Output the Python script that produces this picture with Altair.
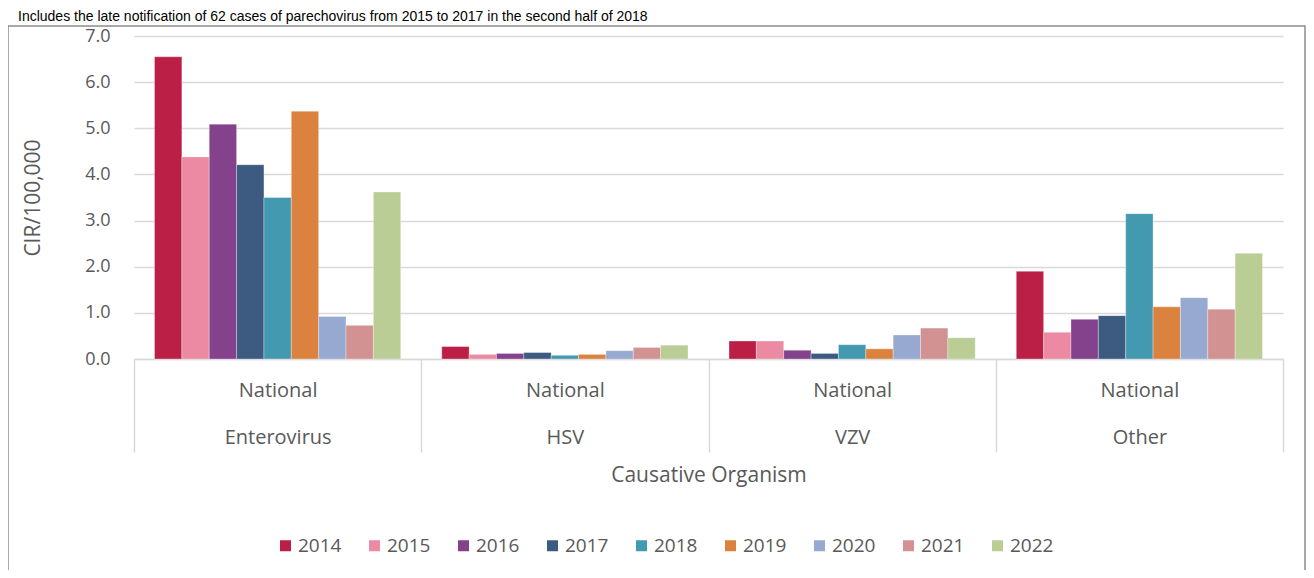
import altair as alt
import pandas as pd

groups = ["Enterovirus", "HSV", "VZV", "Other"]
years = ["2014", "2015", "2016", "2017", "2018", "2019", "2020", "2021", "2022"]
enterovirus = [6.55, 4.38, 5.09, 4.21, 3.50, 5.37, 0.92, 0.73, 3.62]
hsv = [0.27, 0.10, 0.12, 0.14, 0.08, 0.10, 0.18, 0.25, 0.30]
vzv = [0.39, 0.39, 0.19, 0.12, 0.31, 0.22, 0.52, 0.67, 0.46]
other = [1.90, 0.58, 0.86, 0.94, 3.15, 1.13, 1.33, 1.08, 2.29]
colors = ["#BC1F45", "#EB8AA2", "#84418C", "#3D5A80", "#4299B0",
          "#DB823E", "#97A9D0", "#D29291", "#B9CD95"]
note = "Includes the late notification of 62 cases of parechovirus from 2015 to 2017 in the second half of 2018"

rows = []
for g, vals in zip(groups, [enterovirus, hsv, vzv, other]):
    for y, v in zip(years, vals):
        rows.append({"group": g, "year": y, "value": v})
df = pd.DataFrame(rows)

FONT = "Open Sans"
GREY = "#595959"

bars = alt.Chart(df).mark_bar(stroke="white", strokeWidth=0.4, strokeOpacity=0.8).encode(
    x=alt.X("group:N", sort=groups, title="Causative Organism",
            scale=alt.Scale(paddingInner=0, paddingOuter=0),
            axis=alt.Axis(labelAngle=0,
                          labelExpr="datum.label ? ['National', datum.label] : ''",
                          labelLineHeight=47, labelFontSize=20, labelFont=FONT,
                          labelColor=GREY, labelPadding=-72, labelBaseline="top",
                          tickBand="extent", tickSize=93, tickColor="#d9d9d9",
                          tickWidth=1.5, domainColor="#d9d9d9", domainWidth=1.5,
                          titleFont=FONT, titleFontSize=21, titleFontWeight="normal",
                          titleColor=GREY, titleY=116, titleBaseline="middle")),
    xOffset=alt.XOffset("year:N", sort=years,
                        scale=alt.Scale(paddingInner=0, paddingOuter=0.75)),
    y=alt.Y("value:Q", title="CIR/100,000",
            scale=alt.Scale(domain=[0, 7]),
            axis=alt.Axis(values=[0, 1, 2, 3, 4, 5, 6, 7], format=".1f",
                          tickSize=0, labelPadding=24, labelFontSize=18,
                          labelFont=FONT, labelColor=GREY, domain=False,
                          gridColor="#d9d9d9", gridWidth=1.5,
                          titleFont=FONT, titleFontSize=21, titleFontWeight="normal",
                          titleColor=GREY, titlePadding=41)),
    color=alt.Color("year:N", sort=years,
                    scale=alt.Scale(domain=years, range=colors),
                    legend=alt.Legend(title=None, orient="none", direction="horizontal",
                                      columns=9, legendX=142, legendY=500,
                                      symbolType="square", symbolSize=121,
                                      symbolStrokeWidth=0, labelFontSize=19,
                                      labelFont=FONT, labelColor=GREY,
                                      columnPadding=23, labelOffset=3)),
)

border = alt.Chart(pd.DataFrame({"a": [0]})).mark_rect(
    fill=None, stroke="#8c8c8c", strokeWidth=1.5
).encode(
    x=alt.value(-126), x2=alt.value(1171), y=alt.value(-10), y2=alt.value(600)
)

note_text = alt.Chart(pd.DataFrame({"t": [note]})).mark_text(
    align="left", baseline="top", font="Liberation Sans", fontSize=14, color="#000000"
).encode(
    x=alt.value(-116), y=alt.value(-26), text="t:N"
)

chart = alt.layer(border, note_text, bars).properties(
    width=1149, height=323,
    autosize=alt.AutoSizeParams(type="none"),
    padding={"left": 126, "top": 28, "right": 23, "bottom": 211},
).configure_view(stroke=None)

chart.save("out.html", embed_options={"renderer": "svg", "actions": False})
